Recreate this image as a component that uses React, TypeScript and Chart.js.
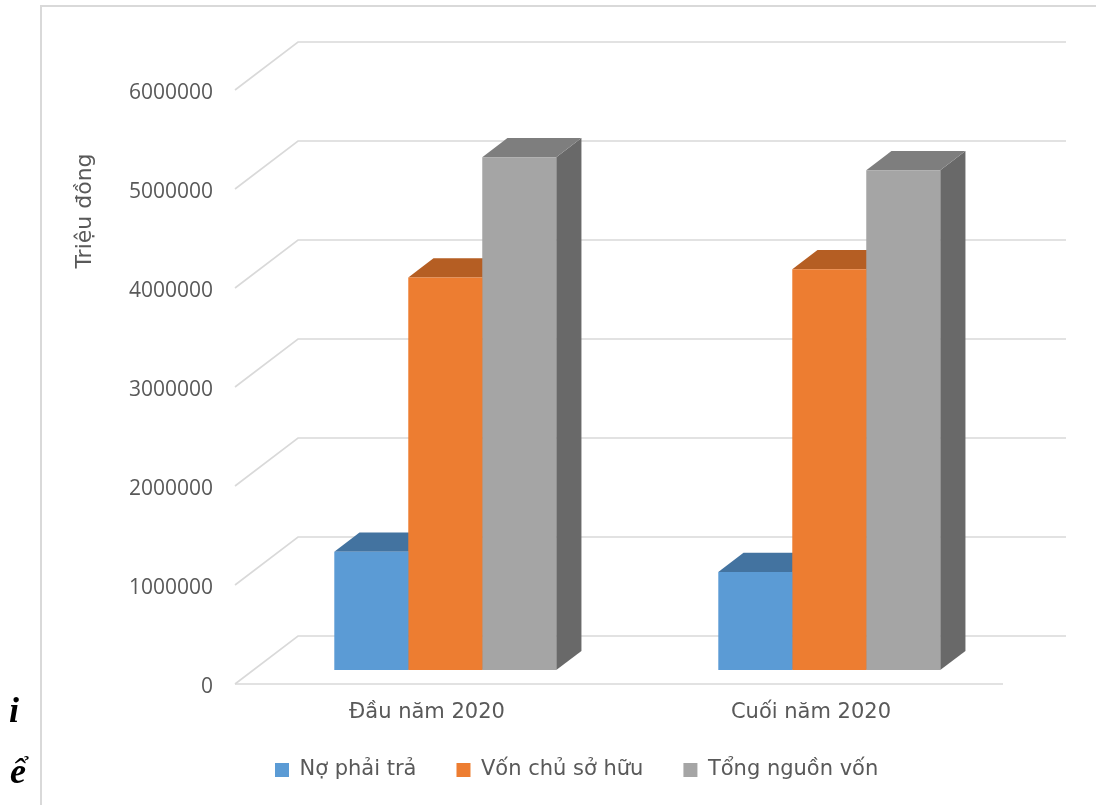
import React, { useEffect, useRef } from "react";
import { Chart, registerables } from "chart.js";

Chart.register(...registerables);

// ---- data ----
const categories = ["Đầu năm 2020", "Cuối năm 2020"];
const seriesNames = ["Nợ phải trả", "Vốn chủ sở hữu", "Tổng nguồn vốn"];
const noPhaiTra = [1195000, 990000];
const vonChuSoHuu = [3965000, 4050000];
const tongNguonVon = [5180000, 5050000];
const yMin = 0;
const yMax = 6000000;
const yStep = 1000000;
const axisTitle = "Triệu đồng";
const strayChars = ["i", "ể"];

// ---- styles ----
const frontColors = ["#5B9BD5", "#ED7D31", "#A5A5A5"];
const topColors = ["#4373A0", "#B55E23", "#7E7E7E"];
const sideColors = ["#3B6791", "#A4541F", "#696969"];
const gridColor = "#D9D9D9";
const textColor = "#595959";

const W = 1096;
const H = 805;
const DEPTH_DX = 63;
const DEPTH_DY = -48;
const BAR_OFFSET = 0.29; // front of bars within depth
const BAR_DEPTH = 0.4; // bar thickness within depth

const threeD = {
  id: "threeD",
  beforeDraw(chart: any) {
    const ctx = chart.ctx;
    ctx.save();
    ctx.strokeStyle = gridColor;
    ctx.lineWidth = 2;
    ctx.beginPath();
    ctx.moveTo(41, H);
    ctx.lineTo(41, 6);
    ctx.lineTo(W, 6);
    ctx.stroke();
    ctx.restore();
  },
  beforeDatasetsDraw(chart: any) {
    const { ctx, chartArea: a } = chart;
    const y = chart.scales.y;
    ctx.save();
    ctx.strokeStyle = gridColor;
    ctx.lineWidth = 1.6;
    for (const t of y.ticks) {
      const py = y.getPixelForValue(t.value);
      ctx.beginPath();
      ctx.moveTo(a.left, py);
      ctx.lineTo(a.left + DEPTH_DX, py + DEPTH_DY);
      ctx.lineTo(a.right + DEPTH_DX, py + DEPTH_DY);
      ctx.stroke();
    }
    const p0 = y.getPixelForValue(0);
    ctx.beginPath();
    ctx.moveTo(a.left, p0);
    ctx.lineTo(a.right, p0);
    ctx.stroke();
    ctx.restore();

    // bars sit part-way into the depth
    ctx.save();
    ctx.translate(DEPTH_DX * BAR_OFFSET, DEPTH_DY * BAR_OFFSET);
    const ddx = DEPTH_DX * BAR_DEPTH;
    const ddy = DEPTH_DY * BAR_DEPTH;
    chart.data.datasets.forEach((_: any, i: number) => {
      const meta = chart.getDatasetMeta(i);
      for (const el of meta.data) {
        const p = el.getProps(["x", "y", "width", "base"], true);
        const l = p.x - p.width / 2;
        const r = p.x + p.width / 2;
        ctx.fillStyle = sideColors[i];
        ctx.beginPath();
        ctx.moveTo(r, p.y);
        ctx.lineTo(r + ddx, p.y + ddy);
        ctx.lineTo(r + ddx, p.base + ddy);
        ctx.lineTo(r, p.base);
        ctx.closePath();
        ctx.fill();
        ctx.fillStyle = topColors[i];
        ctx.beginPath();
        ctx.moveTo(l, p.y);
        ctx.lineTo(l + ddx, p.y + ddy);
        ctx.lineTo(r + ddx, p.y + ddy);
        ctx.lineTo(r, p.y);
        ctx.closePath();
        ctx.fill();
      }
    });
  },
  afterDatasetsDraw(chart: any) {
    const ctx = chart.ctx;
    ctx.restore();
    // axis title
    ctx.save();
    ctx.fillStyle = textColor;
    ctx.font = "22px 'DejaVu Sans'";
    ctx.textAlign = "center";
    ctx.textBaseline = "middle";
    ctx.translate(85, 211);
    ctx.rotate(-Math.PI / 2);
    ctx.fillText(axisTitle, 0, 0);
    ctx.restore();
    // stray characters from the source document
    ctx.save();
    ctx.fillStyle = "#000";
    ctx.font = "italic bold 36px 'Liberation Serif'";
    ctx.textAlign = "left";
    ctx.textBaseline = "alphabetic";
    ctx.fillText(strayChars[0], 9, 722);
    ctx.fillText(strayChars[1], 10, 783);
    ctx.restore();
  },
};

export default function App() {
  const ref = useRef<HTMLCanvasElement | null>(null);
  useEffect(() => {
    const canvas = ref.current;
    if (!canvas) return;
    const seriesData = [noPhaiTra, vonChuSoHuu, tongNguonVon];
    const chart = new Chart(canvas, {
      type: "bar",
      data: {
        labels: categories,
        datasets: seriesNames.map((name, i) => ({
          label: name,
          data: seriesData[i],
          backgroundColor: frontColors[i],
          borderWidth: 0,
          categoryPercentage: 0.578,
          barPercentage: 1.0,
        })),
      },
      options: {
        responsive: false,
        animation: false,
        events: [],
        layout: { padding: { left: 0, right: 93, top: 90, bottom: 14.5 } },
        plugins: {
          tooltip: { enabled: false },
          legend: {
            position: "bottom",
            align: "start",
            fullSize: false,
            labels: {
              boxWidth: 14,
              boxHeight: 14,
              padding: 40,
              color: textColor,
              font: { family: "'DejaVu Sans'", size: 21 },
            },
          },
        },
        scales: {
          x: {
            grid: { display: false, drawTicks: false },
            border: { display: false },
            ticks: {
              color: textColor,
              padding: 16.4,
              font: { family: "'DejaVu Sans'", size: 21 },
            },
            afterFit: (s: any) => {
              s.height = 35.5;
            },
          },
          y: {
            min: yMin,
            max: yMax,
            grid: { display: false, drawTicks: false },
            border: { display: false },
            ticks: {
              stepSize: yStep,
              color: textColor,
              padding: 22,
              labelOffset: 3,
              font: { family: "'Open Sans'", size: 21 },
              callback: (v: any) => String(v),
            },
            afterFit: (s: any) => {
              s.width = 235;
            },
          },
        },
      },
      plugins: [threeD],
    });
    return () => chart.destroy();
  }, []);
  return (
    <div style={{ position: "absolute", left: 0, top: 0, width: W, height: H, background: "#fff" }}>
      <canvas ref={ref} width={W} height={H} style={{ display: "block" }} />
    </div>
  );
}
